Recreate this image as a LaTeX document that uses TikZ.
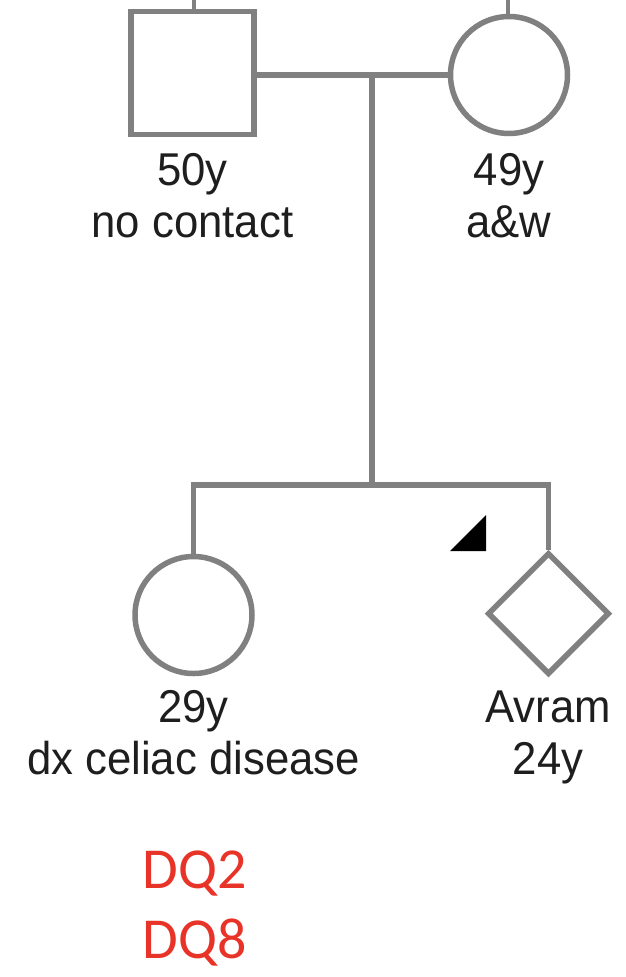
\documentclass[tikz,border=0pt]{standalone}
\usepackage{fontspec}
\usetikzlibrary{shapes.geometric}
\newfontfamily\labfont[FakeStretch=0.95]{Liberation Sans}
\newfontfamily\dqfont{Carlito}
\definecolor{pedgray}{RGB}{128,128,128}
\definecolor{dqred}{RGB}{232,52,40}
\definecolor{txt}{RGB}{30,30,30}
\begin{document}
\begin{tikzpicture}[x=1pt,y=-1pt,
  ped/.style={draw=pedgray,line width=5.5pt,inner sep=0pt,fill=white},
  sq/.style={ped,rectangle,minimum size=123pt},
  circ/.style={ped,circle,minimum size=117pt},
  dia/.style={ped,diamond,minimum width=122pt,minimum height=122pt},
  conn/.style={draw=pedgray,line width=5.5pt,line join=miter},
  lab/.style={font=\labfont\fontsize{46}{52}\selectfont,text=txt,anchor=base,inner sep=0pt},
  dq/.style={font=\dqfont\fontsize{58}{66}\selectfont,text=dqred,anchor=base,inner sep=0pt}]
\useasboundingbox (0,0) rectangle (626,977);
% individuals
\node[sq] (father) at (192.5,73) {};
\node[circ] (mother) at (509,75) {};
\node[circ] (daughter) at (193.5,615) {};
\node[dia] (son) at (548.5,613.5) {};
% coordinates
\coordinate (ftop) at (194,0);
\coordinate (mtop) at (508,0);
\coordinate (mid) at (372,75);
\coordinate (sib) at (372,485);
\coordinate (sl) at (193.5,485);
\coordinate (sr) at (548.5,485);
% connectors
\draw[draw=pedgray,line width=4.5pt] (ftop) -- (father.north -| ftop);
\draw[draw=pedgray,line width=4.5pt] (mtop) -- (mother.north -| mtop);
\draw[conn] (father.east |- mid) -- (mid) -- (mother.west);
\draw[conn] (mid) -- (sib);
\draw[conn] (daughter.north) -- (sl) -- (sr) -- (son.north);
% proband arrow
\fill[black] (450,551) -- (486,551) -- (486,515) -- cycle;
% labels
\node[lab] (f1) at (192.5,185) {50y};
\node[lab] (f2) at (192.5,237) {no contact};
\node[lab] (m1) at (509,185) {49y};
\node[lab] (m2) at (509,237) {a\&w};
\node[lab] (d1) at (193.5,722) {29y};
\node[lab] (d2) at (193.5,774) {dx celiac disease};
\node[lab] (s1) at (548,722) {Avram};
\node[lab] (s2) at (548,774) {24y};
\node[dq] (q1) at (195,888) {DQ2};
\node[dq] (q2) at (195,958) {DQ8};
\end{tikzpicture}
\end{document}
